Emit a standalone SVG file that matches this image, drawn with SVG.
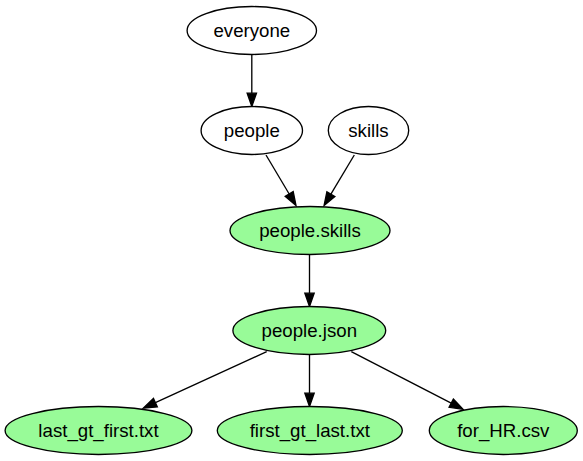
<svg xmlns="http://www.w3.org/2000/svg" width="583" height="461" viewBox="0 0 583 461">
<defs>
<style>
.n ellipse{fill:#ffffff;stroke:#000000;stroke-width:1.33}
.g ellipse{fill:#98fb98}
text{font-family:"Liberation Sans",Arial,Helvetica,sans-serif;font-size:18.67px;text-anchor:middle;fill:#000000}
#edges line{stroke:#000000;stroke-width:1.33;fill:none}
</style>
<marker id="ah" viewBox="0 0 13.33 9.33" refX="0" refY="4.665" markerWidth="13.33" markerHeight="9.33" markerUnits="userSpaceOnUse" orient="auto" overflow="visible">
<path d="M0,0 L13.33,4.665 L0,9.33 Z" fill="#000000" stroke="#000000" stroke-width="1.33"/>
</marker>
</defs>
<rect width="583" height="461" fill="#ffffff"/>
<g id="edges">
<line x1="251.8" y1="54.5" x2="251.8" y2="93.2" marker-end="url(#ah)"/>
<line x1="266" y1="155" x2="289.2" y2="194" marker-end="url(#ah)"/>
<line x1="354.3" y1="155" x2="330.9" y2="194.1" marker-end="url(#ah)"/>
<line x1="309.5" y1="254.5" x2="309.5" y2="293.2" marker-end="url(#ah)"/>
<line x1="266.7" y1="351.7" x2="155.4" y2="402.7" marker-end="url(#ah)"/>
<line x1="309.5" y1="354.5" x2="309.5" y2="393.2" marker-end="url(#ah)"/>
<line x1="351.3" y1="351.7" x2="451.2" y2="403.2" marker-end="url(#ah)"/>
</g>
<g id="everyone" class="n"><ellipse cx="251.8" cy="30.5" rx="64.7" ry="24"/><text x="251.8" y="37">everyone</text></g>
<g id="people" class="n"><ellipse cx="251.8" cy="130.5" rx="50.7" ry="24"/><text x="251.8" y="137">people</text></g>
<g id="skills" class="n"><ellipse cx="368.5" cy="130.5" rx="40.2" ry="24"/><text x="368.5" y="137">skills</text></g>
<g id="people_skills" class="n g"><ellipse cx="310" cy="230.5" rx="80" ry="24"/><text x="310" y="237">people.skills</text></g>
<g id="people_json" class="n g"><ellipse cx="309.3" cy="330.5" rx="76.4" ry="24"/><text x="309.3" y="337">people.json</text></g>
<g id="last_gt_first" class="n g"><ellipse cx="98.5" cy="430.5" rx="93.4" ry="24"/><text x="98.5" y="437">last_gt_first.txt</text></g>
<g id="first_gt_last" class="n g"><ellipse cx="309.8" cy="430.5" rx="92.5" ry="24"/><text x="309.8" y="437">first_gt_last.txt</text></g>
<g id="for_HR" class="n g"><ellipse cx="503.3" cy="430.5" rx="74" ry="24"/><text x="503.3" y="437">for_HR.csv</text></g>
</svg>
